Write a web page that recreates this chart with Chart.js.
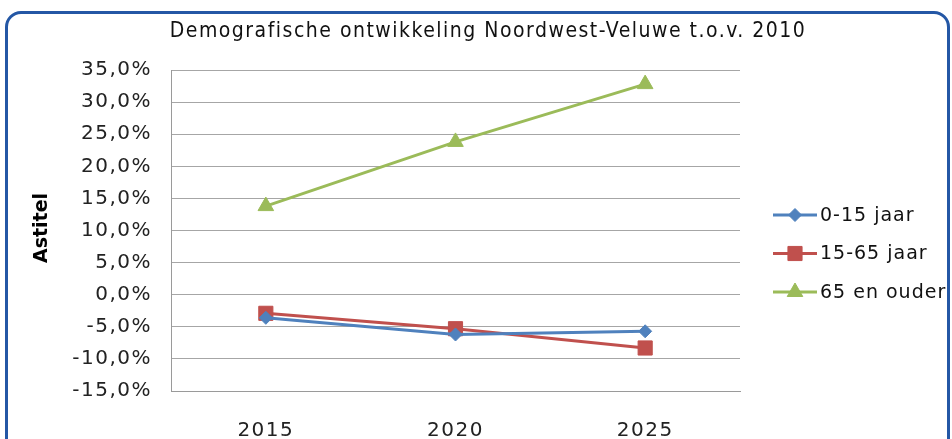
<!DOCTYPE html>
<html>
<head>
<meta charset="utf-8">
<script src="https://cdn.jsdelivr.net/npm/chart.js@4/dist/chart.umd.min.js"></script>
<style>
  html, body { margin: 0; padding: 0; background: #fff; }
  #wrap { position: relative; width: 952px; height: 439px; overflow: hidden; }
  #frame {
    position: absolute; left: 5px; top: 11px; width: 945px; height: 445px;
    box-sizing: border-box; border: 3px solid #2457a5; border-radius: 16px;
    pointer-events: none;
  }
</style>
</head>
<body>
<div id="wrap">
  <canvas id="chart" width="952" height="439"></canvas>
  <div id="frame"></div>
</div>
<script>
// Demografische ontwikkeling (in %)
const years = ["2015", "2020", "2025"];
const kids = [-3.6, -6.2, -5.7];      // 0-15 jaar
const working = [-2.9, -5.3, -8.3];   // 15-65 jaar
const elderly = [13.8, 23.8, 32.8];   // 65 en ouder
const yTicks = { min: -15, max: 35, step: 5 };

const seriesNames = ["0-15 jaar", "15-65 jaar", "65 en ouder"];
const colors = ["#4F81BD", "#C0504D", "#9BBB59"];
const shapes = ["rectRot", "rect", "triangle"];
const radii = [6.5, 10, 9];

const FONT = "'DejaVu Sans', Verdana, sans-serif";

function pct(v) {
  return v.toFixed(1).replace(".", ",") + "%";
}

// Excel's text is spaced out a bit; canvas letterSpacing gets reset on resize, so set it per draw
const spacing = {
  id: "spacing",
  beforeDraw(chart) { chart.ctx.letterSpacing = "1.5px"; },
};

// title, axis title and legend are painted by hand so the plot area stays where Excel put it
const decor = {
  id: "decor",
  afterDraw(chart) {
    const ctx = chart.ctx;
    ctx.save();
    ctx.fillStyle = "#111";
    ctx.textBaseline = "middle";

    ctx.letterSpacing = "1.5px";
    ctx.font = "21px 'DejaVu Sans Condensed', 'DejaVu Sans', sans-serif";
    ctx.textAlign = "center";
    ctx.fillText("Demografische ontwikkeling Noordwest-Veluwe t.o.v. 2010", 488, 32);

    ctx.save();
    ctx.letterSpacing = "0px";
    ctx.translate(42, 228);
    ctx.rotate(-Math.PI / 2);
    ctx.fillStyle = "#000";
    ctx.font = "bold 19px " + FONT;
    ctx.fillText("Astitel", 0, 0);
    ctx.restore();

    chart.data.datasets.forEach((ds, i) => {
      const y = 215 + i * 38.5;
      ctx.strokeStyle = ds.borderColor;
      ctx.fillStyle = ds.borderColor;
      ctx.lineWidth = 3;
      ctx.beginPath();
      ctx.moveTo(773, y);
      ctx.lineTo(817, y);
      ctx.stroke();
      ctx.lineWidth = 1;
      Chart.helpers.drawPoint(ctx, {
        pointStyle: ds.pointStyle,
        radius: ds.pointRadius,
        borderWidth: 1,
        rotation: 0,
      }, 795, y);

      ctx.fillStyle = "#111";
      ctx.letterSpacing = "1px";
      ctx.font = "19px " + FONT;
      ctx.textAlign = "left";
      ctx.fillText(ds.label, 820, y + 1);
    });
    ctx.restore();
  },
};

const data = [kids, working, elderly];
const datasets = seriesNames.map((name, i) => ({
  label: name,
  data: data[i],
  borderColor: colors[i],
  backgroundColor: colors[i],
  pointBackgroundColor: colors[i],
  pointBorderColor: colors[i],
  pointStyle: shapes[i],
  pointRadius: radii[i],
  pointBorderWidth: 1,
  borderWidth: 3,
  tension: 0,
  fill: false,
}));

new Chart(document.getElementById("chart"), {
  type: "line",
  data: { labels: years, datasets },
  plugins: [spacing, decor],
  options: {
    responsive: false,
    animation: false,
    layout: { padding: { top: 70, right: 212, left: 0, bottom: 0 } },
    plugins: {
      legend: { display: false },
      title: { display: false },
      tooltip: { enabled: false },
    },
    scales: {
      x: {
        offset: true,
        grid: { display: false },
        border: { color: "#9a9a9a", width: 1 },
        ticks: { color: "#222", font: { family: FONT, size: 20 }, padding: 20, maxRotation: 0 },
        afterFit: (s) => { s.height = 48; },
      },
      y: {
        min: yTicks.min,
        max: yTicks.max,
        grid: { color: "#a6a6a6", lineWidth: 1, drawTicks: false },
        border: { color: "#9a9a9a", width: 1 },
        ticks: {
          stepSize: yTicks.step,
          color: "#222",
          font: { family: FONT, size: 20 },
          padding: 19,
          callback: (v) => pct(v),
        },
        afterFit: (s) => { s.width = 171; },
      },
    },
  },
});
</script>
</body>
</html>
